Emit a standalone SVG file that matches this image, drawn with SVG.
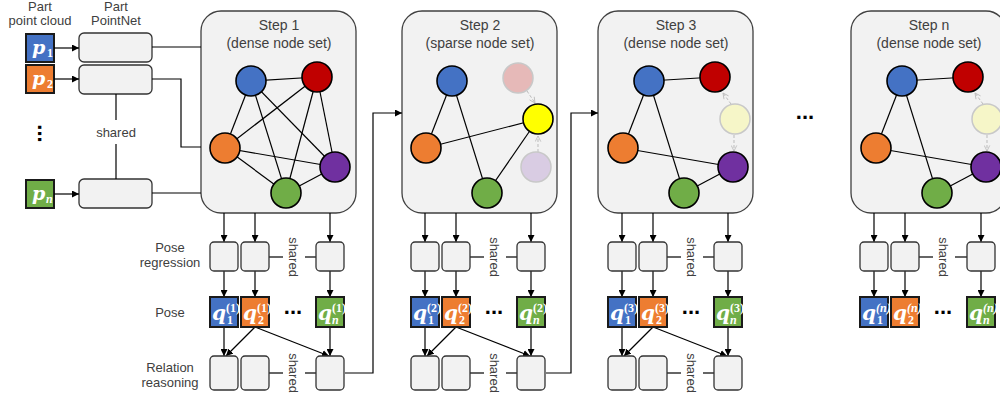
<svg xmlns="http://www.w3.org/2000/svg" width="1000" height="396" viewBox="0 0 1000 396">
<defs>
<style>
.lbl{font-family:"Liberation Sans",Arial,sans-serif;font-size:13px;fill:#404040;text-anchor:middle}
.title{font-family:"Liberation Sans",Arial,sans-serif;font-size:14px;fill:#404040;text-anchor:middle}
.math{font-family:"DejaVu Serif","Liberation Serif",serif;font-style:italic;font-weight:bold;fill:#fff}
.ss{font-family:"Liberation Serif","DejaVu Serif",serif;font-weight:bold;fill:#fff;font-size:12px}
.ssi{font-family:"Liberation Serif","DejaVu Serif",serif;font-weight:bold;font-style:italic;fill:#fff;font-size:12px}
.dots{font-family:"Liberation Sans",Arial,sans-serif;font-weight:bold;font-size:22px;fill:#000;text-anchor:middle}
.stepbox{fill:#F2F2F2;stroke:#404040;stroke-width:1.3}
.box{fill:#F2F2F2;stroke:#333;stroke-width:1.3}
.cbox{stroke:#1a1a1a;stroke-width:2}
.node{stroke:#000;stroke-width:1.6}
.fnode{stroke:#C8C8C8;stroke-width:1.5}
.edge{stroke:#000;stroke-width:1.2;fill:none}
.ln{stroke:#000;stroke-width:1.2;fill:none}
.arr{stroke:#000;stroke-width:1.2;fill:none;marker-end:url(#ah)}
.farr{stroke:#BBBBBB;stroke-width:1;fill:none;stroke-dasharray:3 2;marker-end:url(#fah)}
</style>
<marker id="ah" viewBox="0 0 10 10" refX="10" refY="5" markerWidth="7" markerHeight="7" orient="auto" markerUnits="userSpaceOnUse"><path d="M0,0 L10,5 L0,10 z" fill="#000"/></marker>
<marker id="fah" viewBox="0 0 10 10" refX="9" refY="5" markerWidth="7" markerHeight="7" orient="auto" markerUnits="userSpaceOnUse"><path d="M1,1 L9,5 L1,9" fill="none" stroke="#BBBBBB" stroke-width="1.2"/></marker>
</defs>

<!-- Left labels -->
<g id="labels">
<text class="lbl" x="40" y="10.5">Part</text>
<text class="lbl" x="40" y="24.5">point cloud</text>
<text class="lbl" x="116" y="10.5">Part</text>
<text class="lbl" x="116" y="24.5">PointNet</text>
<text class="lbl" x="116" y="137">shared</text>
<text class="lbl" x="170" y="252">Pose</text>
<text class="lbl" x="170" y="267">regression</text>
<text class="lbl" x="170" y="317">Pose</text>
<text class="lbl" x="170" y="372">Relation</text>
<text class="lbl" x="170" y="387">reasoning</text>
<text class="dots" transform="translate(38,133.5) rotate(90)" x="0" y="0">...</text>
<text class="dots" x="805" y="119">...</text>
</g>

<!-- Part point clouds -->
<g id="p1"><rect class="cbox" x="26" y="34" width="28" height="28" fill="#4472C4"/><text class="math" x="32" y="54" font-size="19">p</text><text class="ss" x="47" y="57">1</text></g>
<g id="p2"><rect class="cbox" x="26" y="65" width="28" height="28" fill="#ED7D31"/><text class="math" x="32" y="85" font-size="19">p</text><text class="ss" x="47" y="88">2</text></g>
<g id="pn"><rect class="cbox" x="26" y="180" width="28" height="28" fill="#70AD47"/><text class="math" x="32" y="200" font-size="19">p</text><text class="ssi" x="46" y="203">n</text></g>

<!-- PointNet boxes -->
<g id="pointnet1"><rect class="box" x="79" y="33" width="73" height="29" rx="5"/></g>
<g id="pointnet2"><rect class="box" x="79" y="65" width="73" height="29" rx="5"/></g>
<g id="pointnetn"><rect class="box" x="79" y="179" width="73" height="29" rx="5"/></g>

<!-- Step boxes -->
<g id="step1"><rect class="stepbox" x="201" y="11" width="155" height="202" rx="20"/><text class="title" x="279" y="30">Step 1</text><text class="title" x="279" y="48">(dense node set)</text></g>
<g id="step2"><rect class="stepbox" x="402" y="11" width="155" height="202" rx="20"/><text class="title" x="480" y="30">Step 2</text><text class="title" x="480" y="48">(sparse node set)</text></g>
<g id="step3"><rect class="stepbox" x="598" y="11" width="155" height="202" rx="20"/><text class="title" x="676" y="30">Step 3</text><text class="title" x="676" y="48">(dense node set)</text></g>
<g id="stepn"><rect class="stepbox" x="851" y="11" width="155" height="202" rx="20"/><text class="title" x="929" y="30">Step n</text><text class="title" x="929" y="48">(dense node set)</text></g>

<!-- Connectors -->
<g id="connectors">
<line class="arr" x1="54" y1="48" x2="79" y2="48"/>
<line class="arr" x1="54" y1="79" x2="79" y2="79"/>
<line class="arr" x1="54" y1="194" x2="79" y2="194"/>
<line class="ln" x1="152" y1="47" x2="201" y2="47"/>
<polyline class="ln" points="152,79 181,79 181,147 201,147"/>
<line class="ln" x1="152" y1="193" x2="201" y2="193"/>
<line class="ln" x1="116" y1="94" x2="116" y2="120"/>
<line class="ln" x1="116" y1="144" x2="116" y2="179"/>
<polyline class="arr" points="345,373 373,373 373,113 402,113"/>
<polyline class="arr" points="546,373 571,373 571,113 598,113"/>

<g id="edges1">
<line class="edge" x1="251" y1="81" x2="317" y2="77"/>
<line class="edge" x1="251" y1="81" x2="225" y2="148"/>
<line class="edge" x1="251" y1="81" x2="286" y2="193"/>
<line class="edge" x1="251" y1="81" x2="335" y2="167"/>
<line class="edge" x1="317" y1="77" x2="225" y2="148"/>
<line class="edge" x1="317" y1="77" x2="286" y2="193"/>
<line class="edge" x1="317" y1="77" x2="335" y2="167"/>
<line class="edge" x1="225" y1="148" x2="335" y2="167"/>
<line class="edge" x1="225" y1="148" x2="286" y2="193"/>
<line class="edge" x1="286" y1="193" x2="335" y2="167"/>
</g>
<g id="edges2">
<line class="edge" x1="452" y1="81" x2="426" y2="148"/>
<line class="edge" x1="452" y1="81" x2="487" y2="193"/>
<line class="edge" x1="426" y1="148" x2="538" y2="119"/>
<line class="edge" x1="538" y1="119" x2="487" y2="193"/>
<path class="farr" d="M527,91 L535,103"/>
<path class="farr" d="M538,152 L538,136"/>
</g>
<g id="edges3">
<line class="edge" x1="649" y1="81" x2="715" y2="77"/>
<line class="edge" x1="649" y1="81" x2="623" y2="148"/>
<line class="edge" x1="649" y1="81" x2="684" y2="193"/>
<line class="edge" x1="623" y1="148" x2="733" y2="167"/>
<line class="edge" x1="684" y1="193" x2="733" y2="167"/>
<path class="farr" d="M731,104 L723,93"/>
<path class="farr" d="M734,135 L734,151"/>
</g>
<g id="edgesn">
<line class="edge" x1="902" y1="81" x2="968" y2="77"/>
<line class="edge" x1="902" y1="81" x2="876" y2="148"/>
<line class="edge" x1="902" y1="81" x2="937" y2="193"/>
<line class="edge" x1="876" y1="148" x2="986" y2="167"/>
<line class="edge" x1="937" y1="193" x2="986" y2="167"/>
<path class="farr" d="M983,104 L975,93"/>
<path class="farr" d="M987,135 L987,151"/>
</g>

<g id="bottom1">
<line class="arr" x1="224" y1="213" x2="224" y2="242"/>
<line class="arr" x1="255" y1="213" x2="255" y2="242"/>
<line class="arr" x1="330" y1="213" x2="330" y2="242"/>
<line class="arr" x1="224" y1="271" x2="224" y2="297"/>
<line class="arr" x1="255" y1="271" x2="255" y2="297"/>
<line class="arr" x1="330" y1="271" x2="330" y2="297"/>
<line class="arr" x1="224" y1="327" x2="224" y2="356"/>
<line class="arr" x1="255" y1="327" x2="226" y2="356"/>
<line class="arr" x1="255" y1="327" x2="329" y2="356"/>
<line class="arr" x1="330" y1="327" x2="330" y2="356"/>
<line class="ln" x1="269" y1="257" x2="283" y2="257"/>
<line class="ln" x1="305" y1="257" x2="316" y2="257"/>
<line class="ln" x1="269" y1="373" x2="283" y2="373"/>
<line class="ln" x1="305" y1="373" x2="316" y2="373"/>
</g>
<g id="bottom2" transform="translate(201,0)">
<line class="arr" x1="224" y1="213" x2="224" y2="242"/>
<line class="arr" x1="255" y1="213" x2="255" y2="242"/>
<line class="arr" x1="330" y1="213" x2="330" y2="242"/>
<line class="arr" x1="224" y1="271" x2="224" y2="297"/>
<line class="arr" x1="255" y1="271" x2="255" y2="297"/>
<line class="arr" x1="330" y1="271" x2="330" y2="297"/>
<line class="arr" x1="224" y1="327" x2="224" y2="356"/>
<line class="arr" x1="255" y1="327" x2="226" y2="356"/>
<line class="arr" x1="255" y1="327" x2="329" y2="356"/>
<line class="arr" x1="330" y1="327" x2="330" y2="356"/>
<line class="ln" x1="269" y1="257" x2="283" y2="257"/>
<line class="ln" x1="305" y1="257" x2="316" y2="257"/>
<line class="ln" x1="269" y1="373" x2="283" y2="373"/>
<line class="ln" x1="305" y1="373" x2="316" y2="373"/>
</g>
<g id="bottom3" transform="translate(398,0)">
<line class="arr" x1="224" y1="213" x2="224" y2="242"/>
<line class="arr" x1="255" y1="213" x2="255" y2="242"/>
<line class="arr" x1="330" y1="213" x2="330" y2="242"/>
<line class="arr" x1="224" y1="271" x2="224" y2="297"/>
<line class="arr" x1="255" y1="271" x2="255" y2="297"/>
<line class="arr" x1="330" y1="271" x2="330" y2="297"/>
<line class="arr" x1="224" y1="327" x2="224" y2="356"/>
<line class="arr" x1="255" y1="327" x2="226" y2="356"/>
<line class="arr" x1="255" y1="327" x2="329" y2="356"/>
<line class="arr" x1="330" y1="327" x2="330" y2="356"/>
<line class="ln" x1="269" y1="257" x2="283" y2="257"/>
<line class="ln" x1="305" y1="257" x2="316" y2="257"/>
<line class="ln" x1="269" y1="373" x2="283" y2="373"/>
<line class="ln" x1="305" y1="373" x2="316" y2="373"/>
</g>
<g id="bottomn" transform="translate(650,0)">
<line class="arr" x1="224" y1="213" x2="224" y2="242"/>
<line class="arr" x1="255" y1="213" x2="255" y2="242"/>
<line class="arr" x1="331" y1="213" x2="331" y2="242"/>
<line class="arr" x1="224" y1="271" x2="224" y2="297"/>
<line class="arr" x1="255" y1="271" x2="255" y2="297"/>
<line class="arr" x1="331" y1="271" x2="331" y2="297"/>
<line class="ln" x1="269" y1="257" x2="283" y2="257"/>
<line class="ln" x1="305" y1="257" x2="317" y2="257"/>
</g>
</g>

<!-- Graph nodes -->
<g id="graph1">
<g id="s1-blue"><circle class="node" cx="251" cy="81" r="15" fill="#4472C4"/></g>
<g id="s1-red"><circle class="node" cx="317" cy="77" r="15" fill="#C00000"/></g>
<g id="s1-orange"><circle class="node" cx="225" cy="148" r="15" fill="#ED7D31"/></g>
<g id="s1-purple"><circle class="node" cx="335" cy="167" r="15" fill="#7030A0"/></g>
<g id="s1-green"><circle class="node" cx="286" cy="193" r="15" fill="#70AD47"/></g>
</g>
<g id="graph2">
<g id="s2-blue"><circle class="node" cx="452" cy="81" r="15" fill="#4472C4"/></g>
<g id="s2-red"><circle class="fnode" cx="518" cy="78" r="15" fill="#E6B9B8"/></g>
<g id="s2-yellow"><circle class="node" cx="538" cy="119" r="15" fill="#FFFF00"/></g>
<g id="s2-orange"><circle class="node" cx="426" cy="148" r="15" fill="#ED7D31"/></g>
<g id="s2-purple"><circle class="fnode" cx="536" cy="167" r="15" fill="#D9CCE3"/></g>
<g id="s2-green"><circle class="node" cx="487" cy="193" r="15" fill="#70AD47"/></g>
</g>
<g id="graph3">
<g id="s3-blue"><circle class="node" cx="649" cy="81" r="15" fill="#4472C4"/></g>
<g id="s3-red"><circle class="node" cx="715" cy="77" r="15" fill="#C00000"/></g>
<g id="s3-yellow"><circle class="fnode" cx="735" cy="119" r="15" fill="#F6F6C8" stroke="#D8D8B8"/></g>
<g id="s3-orange"><circle class="node" cx="623" cy="148" r="15" fill="#ED7D31"/></g>
<g id="s3-purple"><circle class="node" cx="733" cy="167" r="15" fill="#7030A0"/></g>
<g id="s3-green"><circle class="node" cx="684" cy="193" r="15" fill="#70AD47"/></g>
</g>
<g id="graphn">
<g id="sn-blue"><circle class="node" cx="902" cy="81" r="15" fill="#4472C4"/></g>
<g id="sn-red"><circle class="node" cx="968" cy="77" r="15" fill="#C00000"/></g>
<g id="sn-yellow"><circle class="fnode" cx="987" cy="119" r="15" fill="#F6F6C8" stroke="#D8D8B8"/></g>
<g id="sn-orange"><circle class="node" cx="876" cy="148" r="15" fill="#ED7D31"/></g>
<g id="sn-purple"><circle class="node" cx="986" cy="167" r="15" fill="#7030A0"/></g>
<g id="sn-green"><circle class="node" cx="937" cy="193" r="15" fill="#70AD47"/></g>
</g>

<!-- Step 1 bottom blocks -->
<g id="s1-reg"><rect class="box" x="210" y="242" width="28" height="29" rx="4"/><rect class="box" x="241" y="242" width="28" height="29" rx="4"/><rect class="box" x="316" y="242" width="28" height="29" rx="4"/><text class="lbl" transform="translate(289,257) rotate(90)">shared</text></g>
<g id="s1-pose">
<rect class="cbox" x="210" y="297" width="28" height="30" fill="#4472C4"/><text class="math" x="212" y="320" font-size="20">q</text><text class="ss" x="227" y="324">1</text><text class="ss" x="226" y="312">(1)</text>
<rect class="cbox" x="241" y="297" width="28" height="30" fill="#ED7D31"/><text class="math" x="243" y="320" font-size="20">q</text><text class="ss" x="258" y="324">2</text><text class="ss" x="257" y="312">(1)</text>
<text class="dots" x="293" y="314">...</text>
<rect class="cbox" x="316" y="297" width="28" height="30" fill="#70AD47"/><text class="math" x="318" y="320" font-size="20">q</text><text class="ssi" x="332" y="324">n</text><text class="ss" x="332" y="312">(1)</text>
</g>
<g id="s1-rel"><rect class="box" x="210" y="356" width="28" height="34" rx="4"/><rect class="box" x="241" y="356" width="28" height="34" rx="4"/><rect class="box" x="316" y="356" width="28" height="34" rx="4"/><text class="lbl" transform="translate(289,373) rotate(90)">shared</text></g>

<!-- Step 2 bottom blocks -->
<g transform="translate(201,0)">
<g id="s2-reg"><rect class="box" x="210" y="242" width="28" height="29" rx="4"/><rect class="box" x="241" y="242" width="28" height="29" rx="4"/><rect class="box" x="316" y="242" width="28" height="29" rx="4"/><text class="lbl" transform="translate(289,257) rotate(90)">shared</text></g>
<g id="s2-pose">
<rect class="cbox" x="210" y="297" width="28" height="30" fill="#4472C4"/><text class="math" x="212" y="320" font-size="20">q</text><text class="ss" x="227" y="324">1</text><text class="ss" x="226" y="312">(2)</text>
<rect class="cbox" x="241" y="297" width="28" height="30" fill="#ED7D31"/><text class="math" x="243" y="320" font-size="20">q</text><text class="ss" x="258" y="324">2</text><text class="ss" x="257" y="312">(2)</text>
<text class="dots" x="293" y="314">...</text>
<rect class="cbox" x="316" y="297" width="28" height="30" fill="#70AD47"/><text class="math" x="318" y="320" font-size="20">q</text><text class="ssi" x="332" y="324">n</text><text class="ss" x="332" y="312">(2)</text>
</g>
<g id="s2-rel"><rect class="box" x="210" y="356" width="28" height="34" rx="4"/><rect class="box" x="241" y="356" width="28" height="34" rx="4"/><rect class="box" x="316" y="356" width="28" height="34" rx="4"/><text class="lbl" transform="translate(289,373) rotate(90)">shared</text></g>
</g>

<!-- Step 3 bottom blocks -->
<g transform="translate(398,0)">
<g id="s3-reg"><rect class="box" x="210" y="242" width="28" height="29" rx="4"/><rect class="box" x="241" y="242" width="28" height="29" rx="4"/><rect class="box" x="316" y="242" width="28" height="29" rx="4"/><text class="lbl" transform="translate(289,257) rotate(90)">shared</text></g>
<g id="s3-pose">
<rect class="cbox" x="210" y="297" width="28" height="30" fill="#4472C4"/><text class="math" x="212" y="320" font-size="20">q</text><text class="ss" x="227" y="324">1</text><text class="ss" x="226" y="312">(3)</text>
<rect class="cbox" x="241" y="297" width="28" height="30" fill="#ED7D31"/><text class="math" x="243" y="320" font-size="20">q</text><text class="ss" x="258" y="324">2</text><text class="ss" x="257" y="312">(3)</text>
<text class="dots" x="293" y="314">...</text>
<rect class="cbox" x="316" y="297" width="28" height="30" fill="#70AD47"/><text class="math" x="318" y="320" font-size="20">q</text><text class="ssi" x="332" y="324">n</text><text class="ss" x="332" y="312">(3)</text>
</g>
<g id="s3-rel"><rect class="box" x="210" y="356" width="28" height="34" rx="4"/><rect class="box" x="241" y="356" width="28" height="34" rx="4"/><rect class="box" x="316" y="356" width="28" height="34" rx="4"/><text class="lbl" transform="translate(289,373) rotate(90)">shared</text></g>
</g>

<!-- Step n bottom blocks -->
<g transform="translate(650,0)">
<g id="sn-reg"><rect class="box" x="210" y="242" width="28" height="29" rx="4"/><rect class="box" x="241" y="242" width="28" height="29" rx="4"/><rect class="box" x="317" y="242" width="28" height="29" rx="4"/><text class="lbl" transform="translate(289,257) rotate(90)">shared</text></g>
<g id="sn-pose">
<rect class="cbox" x="210" y="297" width="28" height="30" fill="#4472C4"/><text class="math" x="212" y="320" font-size="20">q</text><text class="ss" x="227" y="324">1</text><text class="ssi" x="226" y="312">(n)</text>
<rect class="cbox" x="241" y="297" width="28" height="30" fill="#ED7D31"/><text class="math" x="243" y="320" font-size="20">q</text><text class="ss" x="258" y="324">2</text><text class="ssi" x="257" y="312">(n)</text>
<text class="dots" x="293" y="314">...</text>
<rect class="cbox" x="317" y="297" width="28" height="30" fill="#70AD47"/><text class="math" x="319" y="320" font-size="20">q</text><text class="ssi" x="333" y="324">n</text><text class="ssi" x="333" y="312">(n)</text>
</g>
</g>
</svg>
